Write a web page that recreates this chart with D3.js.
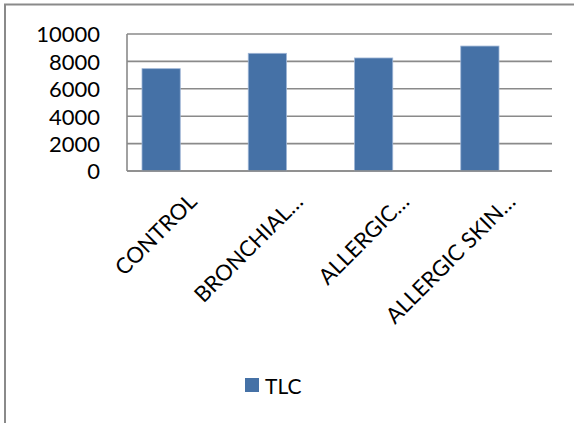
<!DOCTYPE html>
<html>
<head>
<meta charset="utf-8">
<script src="https://cdn.jsdelivr.net/npm/d3@7/dist/d3.min.js"></script>
<style>
  html, body { margin: 0; padding: 0; background: #fff; }
  svg { display: block; }
  text { font-family: Lato, "Open Sans", sans-serif; fill: #000; }
</style>
</head>
<body>
<script>
// Total leucocyte count per study group
const categories = ["CONTROL", "BRONCHIAL…", "ALLERGIC…", "ALLERGIC SKIN…"];
const tlcValues = [7470, 8590, 8250, 9120];
const yTicks = [0, 2000, 4000, 6000, 8000, 10000];
const seriesName = "TLC";

const W = 574, H = 423;
const barColor = "#4571a6";
const gridColor = "#8a8a8a";

const svg = d3.select("body").append("svg")
  .attr("width", W).attr("height", H);

svg.append("rect").attr("width", W).attr("height", H).attr("fill", "#fff");

// outer chart frame (top and left edges visible)
svg.append("line").attr("x1", 4).attr("x2", W).attr("y1", 4.5).attr("y2", 4.5)
  .attr("stroke", gridColor).attr("stroke-width", 2);
svg.append("line").attr("x1", 5).attr("x2", 5).attr("y1", 4).attr("y2", H)
  .attr("stroke", gridColor).attr("stroke-width", 2);

const plot = { left: 127, right: 552, top: 34, bottom: 171 };

const y = d3.scaleLinear().domain([0, 10000]).range([plot.bottom, plot.top]);
const x = d3.scaleBand().domain(categories)
  .range([plot.left - 19, plot.right - 19])
  .paddingInner(0.64).paddingOuter(0.32);

// horizontal gridlines
svg.append("g").selectAll("line").data(yTicks).join("line")
  .attr("x1", plot.left).attr("x2", plot.right)
  .attr("y1", d => y(d)).attr("y2", d => y(d))
  .attr("stroke", gridColor).attr("stroke-width", 1.6);

// value axis line
svg.append("line").attr("x1", plot.left).attr("x2", plot.left)
  .attr("y1", plot.top).attr("y2", plot.bottom)
  .attr("stroke", gridColor).attr("stroke-width", 1.6);

// value axis labels
const yAxis = d3.axisLeft(y).tickValues(yTicks).tickSize(0).tickPadding(0)
  .tickFormat(d3.format("d"));
const gy = svg.append("g").attr("transform", `translate(100,0)`).call(yAxis);
gy.select(".domain").remove();
gy.selectAll("text").attr("font-size", 22).attr("font-family", "Lato")
  .attr("fill", "#000").attr("dy", "0.36em");

// bars
svg.append("g").selectAll("rect").data(tlcValues).join("rect")
  .attr("x", (d, i) => x(categories[i]))
  .attr("width", x.bandwidth())
  .attr("y", d => y(d))
  .attr("height", d => y(0) - y(d))
  .attr("fill", barColor)
  .attr("stroke", "#9fb6d6").attr("stroke-width", 0.8);

// redraw baseline over the bars
svg.append("line").attr("x1", plot.left).attr("x2", plot.right)
  .attr("y1", y(0)).attr("y2", y(0))
  .attr("stroke", gridColor).attr("stroke-width", 1.6);

// rotated category labels
svg.append("g").selectAll("text").data(categories).join("text")
  .attr("transform", d => `translate(${x(d) + x.bandwidth() / 2 + 37},203) rotate(-45)`)
  .attr("text-anchor", "end")
  .attr("font-size", 22)
  .text(d => d);

// legend
const legend = svg.append("g").attr("transform", "translate(245,378)");
legend.append("rect").attr("width", 14).attr("height", 14).attr("fill", barColor);
legend.append("text").attr("x", 20).attr("y", 15.5).attr("font-size", 21).text(seriesName);
</script>
</body>
</html>
